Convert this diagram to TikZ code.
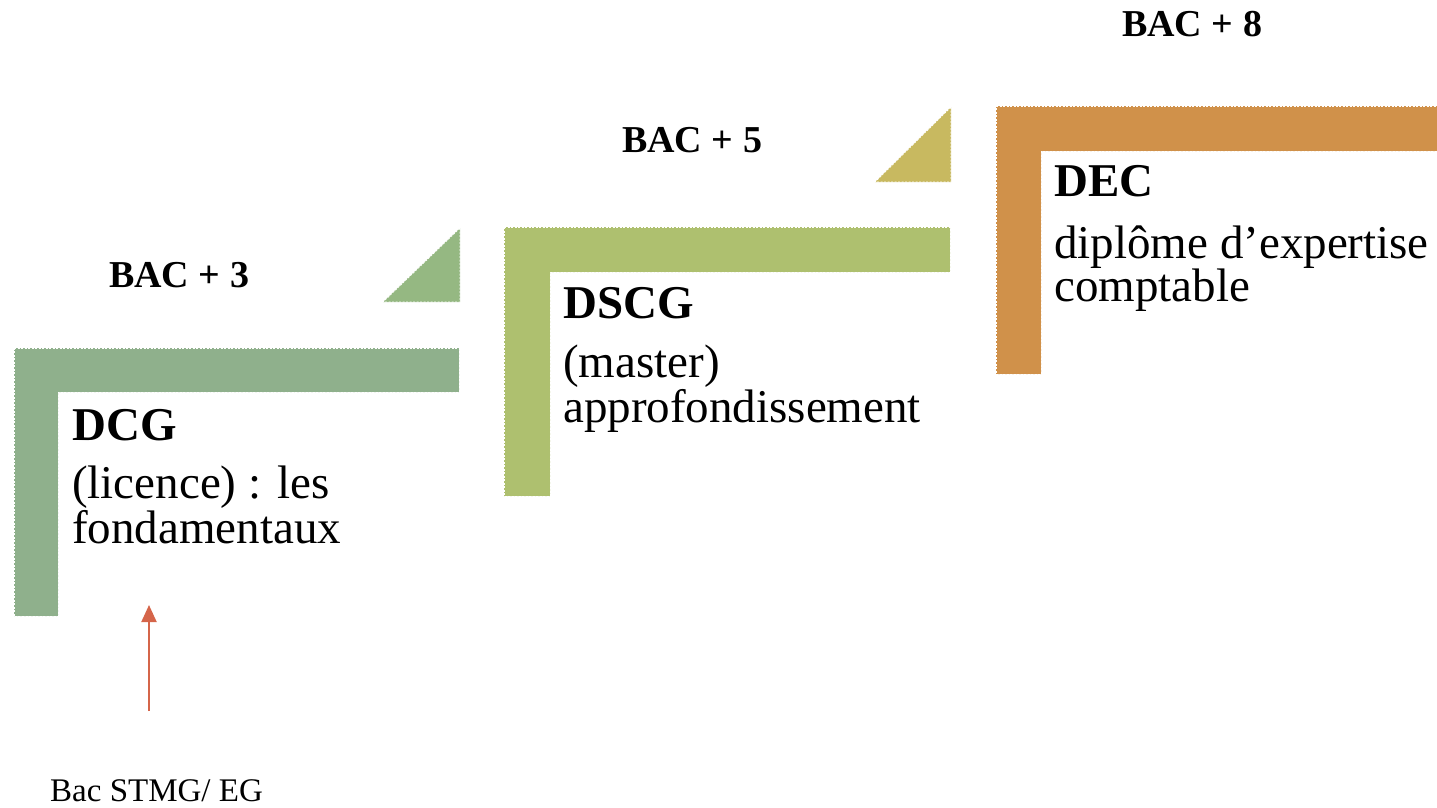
\documentclass[tikz,border=0pt]{standalone}
\usepackage{fontspec}
\setmainfont{Liberation Serif}
\usetikzlibrary{arrows.meta}
\definecolor{dcgcol}{HTML}{8FB08C}
\definecolor{dcgtri}{HTML}{95B882}
\definecolor{dscgcol}{HTML}{AEC06F}
\definecolor{dscgtri}{HTML}{C8B960}
\definecolor{deccol}{HTML}{D0914A}
\definecolor{arrowcol}{HTML}{D5654A}
\tikzset{>=stealth}
\newcommand{\steptitle}{\fontsize{47}{43}\selectfont\bfseries}
\newcommand{\steptext}{\fontsize{47}{43}\selectfont}
\newcommand{\baclabel}{\fontsize{38}{40}\selectfont\bfseries}

\begin{document}
\begin{tikzpicture}[x=1pt,y=-1pt,
  stepbar/.style={fill=#1, draw=white, line width=0.8pt, dash pattern=on 2pt off 1.5pt},
  title/.style={anchor=base west, inner sep=0pt, font=\steptitle},
  desc/.style={anchor=base west, inner sep=0pt, align=left, font=\steptext},
  level/.style={anchor=base west, inner sep=0pt, font=\baclabel}]
\useasboundingbox (0,0) rectangle (1437,808);
% steps
\draw[stepbar=dcgcol] (14,348) -- (459,348) -- (459,392) -- (58,392) -- (58,616) -- (14,616) -- cycle;
\draw[stepbar=dscgcol] (504,227) -- (950,227) -- (950,272) -- (550,272) -- (550,496) -- (504,496) -- cycle;
\draw[stepbar=deccol] (996,106) -- (1437,106) -- (1437,151) -- (1041,151) -- (1041,374) -- (996,374) -- cycle;
% triangles
\draw[stepbar=dcgtri] (460,228) -- (460,302) -- (383,302) -- cycle;
\draw[stepbar=dscgtri] (951,107) -- (951,182) -- (875,182) -- cycle;
% levels
\node[level] (bac3) at (109,287) {BAC + 3};
\node[level] (bac5) at (622,152) {BAC + 5};
\node[level] (bac8) at (1122,37) {BAC + 8};
% texts (base = last line)
\node[title] (dcg) at (72,440) {DCG};
\node[desc] (dcgtext) at (72,543) {(licence) : les\\fondamentaux};
\node[title] (dscg) at (563,318) {DSCG};
\node[desc] (dscgtext) at (563,422) {(master)\\approfondissement};
\node[title] (dec) at (1054,196) {DEC};
\node[desc] (dectext) at (1054,301) {diplôme d’expertise\\comptable};
% entry
\node[anchor=base west, inner sep=0pt, font=\fontsize{33}{36}\selectfont] (bac) at (50,801) {Bac STMG/ EG};
\coordinate (bacfoot) at (149,711);
\coordinate (dcgfoot) at (149,605);
\draw[-{Triangle[length=17pt,width=15pt]}, arrowcol, line width=2pt] (bacfoot) -- (dcgfoot);
\end{tikzpicture}
\end{document}
